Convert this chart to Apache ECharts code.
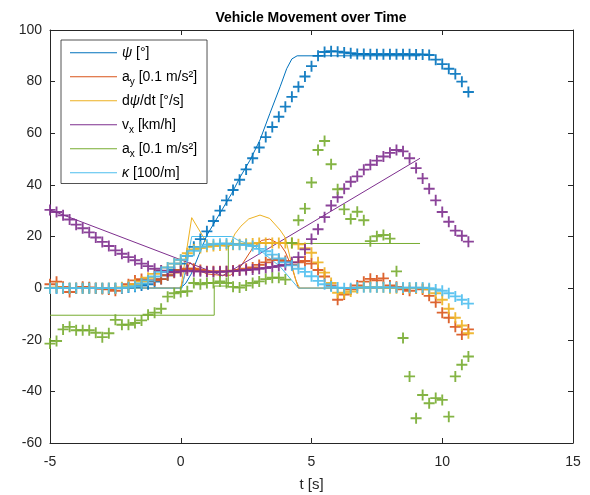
<!DOCTYPE html>
<html><head><meta charset="utf-8">
<script src="https://cdn.jsdelivr.net/npm/echarts@6/dist/echarts.min.js"></script>
<style>html,body{margin:0;padding:0;background:#fff}#c{width:590px;height:495px}</style>
</head><body><div id="c"></div>
<script>
// sample times of the measured points (s)
const tMarkers = [-5,-4.75,-4.5,-4.25,-4,-3.75,-3.5,-3.25,-3,-2.75,-2.5,-2.25,-2,-1.75,-1.5,-1.25,-1,-0.75,-0.5,-0.25,0,0.25,0.5,0.75,1,1.25,1.5,1.75,2,2.25,2.5,2.75,3,3.25,3.5,3.75,4,4.25,4.5,4.75,5,5.25,5.5,5.75,6,6.25,6.5,6.75,7,7.25,7.5,7.75,8,8.25,8.5,8.75,9,9.25,9.5,9.75,10,10.25,10.5,10.75,11];
const psiMarkers = [0,0,0,0,0,0,0,0,0,0, 0,0,0.2,0.5,1,1.5,2.5,3.5,5,7, 9.5,12.5,16,19,22,26,30,34,38,42, 46,50.3,54.5,58.5,62.4,66.4,70.3,74.1,78,82, 86,90,91.5,91.8,91.6,91.3,91,90.7,90.7,90.6, 90.6,90.6,90.6,90.6,90.6,90.6,90.5,90.5,90.3,88.5, 86.8,85,83,80,76];
const ayMarkers = [1.5,2.5,0.5,-1.5,0,0.5,0.3,0,-0.3,-0.5, -1,0,1.5,3,3.5,3,3,3.5,5,6, 7,7.5,7.5,7,6.5,6.5,6.5,6.5,6.8,7, 7.5,8,9,10,11,11,10.5,9,10,10.5, 9.5,7,4.5,1,-4.5,-2.5,-0.5,1,2.5,3.6, 3,3.8,1,0.5,-0.5,-1,0,-0.5,-3,-5.5, -9.5,-11.5,-15,-18,-16];
const dpsiMarkers = [0,0.3,0,0,0,0,0,0,0,0, 0,0.3,0.8,1.5,2.5,4,5.5,6.7,8,9.5, 11,13.5,15,15.5,16,16.3,16.5,16.7,16.8,17, 17.2,17.3,17.5,17.5,17.5,17.5,17.5,17.5,17,15.5, 13.7,10,6,2,-1.8,-2,-1.3,0,0.5,0.5, 0.3,0.3,0,0,0,0,0,0,-0.5,-2, -4.5,-8,-11.5,-14.5,-17.5];
const vxMarkers = [30.3,29.5,28.2,26.6,24.6,23.2,21.6,19.6,17.9,16.3, 14.6,13.3,12,10.8,9.5,8.5,7.5,6.8,6.3,6.2, 6.5,6.8,6.5,6.5,6.3,6.2,6.3,6.5,6.6,6.8, 7,7.2,7.5,7.8,8.2,8.6,9,10,12,15, 19,22.8,27.5,32,35.2,38.5,41.2,43.3,45.9,47.8, 49.4,51,52.4,53.5,53,50.3,46.5,42.5,38.5,34, 29.5,25.7,22.3,20.3,18];
const axMarkers = [-21.5,-20.5,-16,-15,-16.3,-16.3,-16.3,-17.3,-19,-17.5, -12.3,-14.2,-14.2,-13.5,-12.5,-10.3,-9.5,-8,-3.3,-2, -1.5,-1.2,2,1.5,2,2,2.6,2,0.5,0.2, 1,2,2.6,3.5,4,4,3.3,17.5,26.3,30.8, 40.9,53.5,57,48,38.3,30.5,26.8,29.6,26.3,18.2, 20.1,20.6,19.2,6.5,-19.3,-34.2,-50.4,-41.4,-44.6,-42.6, -43.3,-49.8,-34.2,-29.7,-26.5];
const kappaMarkers = [0,0,0,0,0,0,0,0,0,0, 0,0,0.3,0.8,1.8,3,4.5,6.3,8,9.5, 11,12.5,14.5,16,16.8,17,17.2,17.3,17,16.8, 16.8,16.3,15.2,14.3,13,11.5,10,8.8,7.5,6.3, 4.6,2.8,1.5,0.6,0.2,0,0,0.2,0.3,0.3, 0.3,0.3,0.3,0.2,0.2,0.2,0.2,0.2,0,-0.5, -1,-2,-3.2,-4.5,-6];

// reference (model) curves
const psiLineT = [-5,0,0.2,0.4,0.7,1.0,1.5,1.95,2.27,2.65,3.03,3.41,3.8,4.05,4.25,4.45,9.15];
const psiLineV = [0,0,2,5.5,13,20.5,29,36.7,43,49.6,57.4,67.7,78,85,88.8,90,90];
const ayLineT = [-5,0,0.15,0.35,0.6,1.0,1.5,1.9,2.3,2.75,3.1,3.4,3.8,4.0,4.25,4.5,9.15];
const ayLineV = [0,0,5,10,7.5,5.5,5,5,8.5,15.5,18.5,19,17,14,8,0,0];
const dpsiLineT = [-5,0,0.42,1.0,1.85,2.07,2.3,2.6,3.03,3.4,3.8,4.0,4.2,4.4,4.55,9.15];
const dpsiLineV = [0,0,27.3,17.5,16,21,24,26.8,28.3,27,22.5,19.5,11,3,0,0];
const vxLineT = [-5,1.6,9.15];
const vxLineV = [30.3,4.8,50.3];
const axLineT = [-5,1.28,1.28,1.82,1.82,9.15];
const axLineV = [-10.5,-10.5,0.8,0.8,17.3,17.3];
const kappaLineT = [-5,0.05,0.42,1.95,2.2,2.8,3.03,3.8,4.5,9.15];
const kappaLineV = [0,0,20,20,18.5,16.5,14.7,8.3,0,0];

const xTicks = [-5,0,5,10,15];
const yTicks = [-60,-40,-20,0,20,40,60,80,100];

const seriesNames = ['psi','ay','dpsi','vx','ax','kappa'];
const legendLabels = {
  psi: '{g|ψ} [°]',
  ay: 'a{sub|y} [0.1 m/s²]',
  dpsi: 'd{g|ψ}/dt [°/s]',
  vx: 'v{sub|x} [km/h]',
  ax: 'a{sub|x} [0.1 m/s²]',
  kappa: '{g|κ} [100/m]'
};
const colors = ['#0072BD','#D95319','#EDB120','#7E2F8E','#77AC30','#4DBEEE'];
const lineT = [psiLineT, ayLineT, dpsiLineT, vxLineT, axLineT, kappaLineT];
const lineV = [psiLineV, ayLineV, dpsiLineV, vxLineV, axLineV, kappaLineV];
const markerV = [psiMarkers, ayMarkers, dpsiMarkers, vxMarkers, axMarkers, kappaMarkers];

const pairs = (t, v) => t.map((x, i) => [x, v[i]]);
const plusPath = 'path://M4.15,0H5.85V4.15H10V5.85H5.85V10H4.15V5.85H0V4.15H4.15Z';
const FONT = "'Liberation Sans', Arial, sans-serif";
const AX = '#262626';

const series = [];
seriesNames.forEach((n, i) => {
  series.push({
    name: n, type: 'line', data: pairs(lineT[i], lineV[i]),
    symbol: 'none', showSymbol: false, color: colors[i],
    lineStyle: {width: 1, color: colors[i]}, z: 2, silent: true
  });
});
seriesNames.forEach((n, i) => {
  series.push({
    name: n + '_pts', type: 'scatter', data: pairs(tMarkers, markerV[i]),
    symbol: plusPath, symbolSize: 11, itemStyle: {color: colors[i], opacity: 0.9}, z: 3, silent: true
  });
});

const chart = echarts.init(document.getElementById('c'), null, {renderer: 'canvas'});
chart.setOption({
  animation: false,
  backgroundColor: '#fff',
  textStyle: {fontFamily: FONT},
  title: {
    text: 'Vehicle Movement over Time', left: 306, top: 6, textAlign: 'center',
    textStyle: {fontFamily: FONT, fontSize: 14, fontWeight: 'bold', color: '#000'}
  },
  grid: {left: 50, top: 30, right: 17, bottom: 52, containLabel: false, outerBoundsMode: 'none'},
  legend: {
    data: seriesNames, orient: 'vertical', left: 61, top: 40,
    padding: [2, 10, 0, 9], itemGap: 2.5, itemWidth: 47, itemHeight: 1.2, icon: 'rect',
    backgroundColor: '#fff', borderColor: AX, borderWidth: 0.8,
    selectedMode: false,
    formatter: n => legendLabels[n],
    textStyle: {
      fontFamily: FONT, fontSize: 14, color: '#000', lineHeight: 21.5,
      rich: {
        g: {fontFamily: FONT, fontSize: 14, fontStyle: 'italic', color: '#000', lineHeight: 21.5},
        sub: {fontFamily: FONT, fontSize: 10, color: '#000', lineHeight: 11, verticalAlign: 'bottom'}
      }
    }
  },
  xAxis: [{
    type: 'value', min: -5, max: 15, interval: 5, position: 'bottom',
    axisLine: {show: true, onZero: false, lineStyle: {color: AX, width: 1}},
    axisTick: {show: true, inside: true, length: 5, lineStyle: {color: AX}},
    splitLine: {show: false},
    axisLabel: {fontSize: 14, color: AX, margin: 12, fontFamily: FONT},
    name: 't [s]', nameLocation: 'middle', nameGap: 34,
    nameTextStyle: {fontSize: 15, color: AX, fontFamily: FONT}
  }, {
    type: 'value', min: -5, max: 15, interval: 5, position: 'top',
    axisLine: {show: true, onZero: false, lineStyle: {color: AX, width: 1}},
    axisTick: {show: true, inside: true, length: 5, lineStyle: {color: AX}},
    splitLine: {show: false}, axisLabel: {show: false}
  }],
  yAxis: [{
    type: 'value', min: -60, max: 100, interval: 20, position: 'left',
    axisLine: {show: true, onZero: false, lineStyle: {color: AX, width: 1}},
    axisTick: {show: true, inside: true, length: 5, lineStyle: {color: AX}},
    splitLine: {show: false},
    axisLabel: {fontSize: 14, color: AX, margin: 8, fontFamily: FONT}
  }, {
    type: 'value', min: -60, max: 100, interval: 20, position: 'right',
    axisLine: {show: true, onZero: false, lineStyle: {color: AX, width: 1}},
    axisTick: {show: true, inside: true, length: 5, lineStyle: {color: AX}},
    splitLine: {show: false}, axisLabel: {show: false}
  }],
  series: series
});
</script>
</body></html>
